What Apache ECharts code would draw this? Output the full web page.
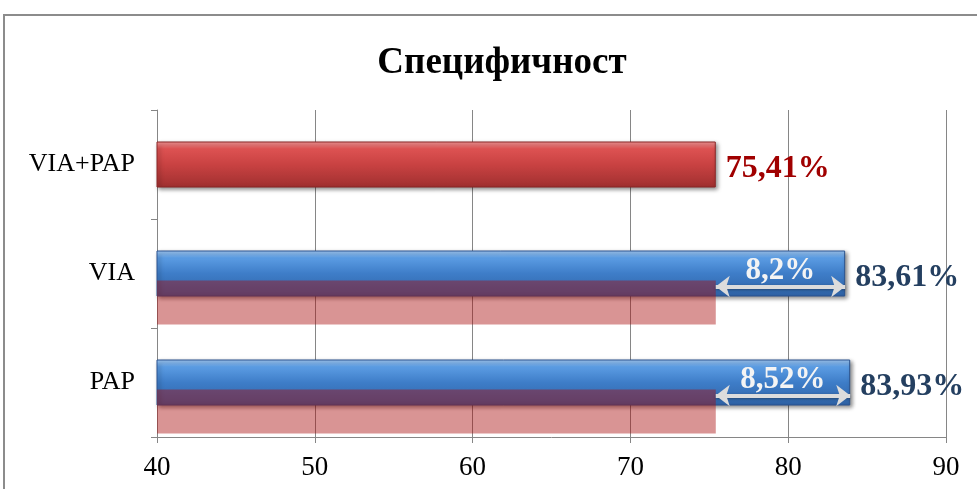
<!DOCTYPE html>
<html>
<head>
<meta charset="utf-8">
<script src="https://cdn.jsdelivr.net/npm/echarts@6/dist/echarts.min.js"></script>
<style>
  html, body { margin: 0; padding: 0; background: #fff; }
  #chart { width: 977px; height: 489px; }
</style>
</head>
<body>
<div id="chart"></div>
<script>
  // data
  var categories = ['PAP', 'VIA', 'VIA+PAP'];
  var specValues = [83.93, 83.61, 75.41];
  var refValues = [75.41, 75.41, '-'];      // VIA+PAP bar shown again under the others
  var diffLabels = ['8,52%', '8,2%'];
  var xTicks = [40, 50, 60, 70, 80, 90];

  var font = '"Liberation Serif", "Times New Roman", serif';

  var blueFill = new echarts.graphic.LinearGradient(0, 0, 0, 1, [
    {offset: 0, color: '#a4cdf8'},
    {offset: 0.16, color: '#5b9ce3'},
    {offset: 0.5, color: '#3e7dc8'},
    {offset: 1, color: '#2f63a6'}
  ]);
  var redFill = new echarts.graphic.LinearGradient(0, 0, 0, 1, [
    {offset: 0, color: '#f89a9a'},
    {offset: 0.16, color: '#dd5252'},
    {offset: 0.5, color: '#c94242'},
    {offset: 1, color: '#a03030'}
  ]);

  var mainData = specValues.map(function (v, i) {
    var isRed = categories[i] === 'VIA+PAP';
    return {
      value: v,
      itemStyle: {
        color: isRed ? redFill : blueFill,
        borderColor: isRed ? '#8a2727' : '#2a5390',
        borderWidth: 1,
        shadowColor: 'rgba(0,0,0,0.45)',
        shadowBlur: 4,
        shadowOffsetX: 2,
        shadowOffsetY: 2
      },
      label: {color: isRed ? '#a00000' : '#243f60'}
    };
  });

  var arrowLines = diffLabels.map(function (t, i) {
    return [
      {coord: [refValues[i], categories[i]], name: t},
      {coord: [specValues[i], categories[i]]}
    ];
  });

  var myChart = echarts.init(document.getElementById('chart'));

  var xBase = {
    type: 'value', min: xTicks[0], max: xTicks[xTicks.length - 1], interval: 10
  };
  var hiddenX = Object.assign({}, xBase, {show: false, splitLine: {show: false}});
  var hiddenY = {type: 'category', data: categories, show: false};

  var option = {
    animation: false,
    title: {
      text: 'Специфичност',
      left: 497,
      textAlign: 'center',
      top: 40,
      textStyle: {fontFamily: font, fontSize: 37, fontWeight: 'bold', color: '#000'}
    },
    graphic: [{
      type: 'rect',
      shape: {x: 4, y: 15, width: 1000, height: 500},
      style: {fill: 'none', stroke: '#8c8c8c', lineWidth: 2},
      silent: true
    }],
    grid: [
      {left: 157, right: 31, top: 110, bottom: 52},
      {left: 157, right: 31, top: 139, bottom: 23},
      {left: 157, right: 31, top: 123, bottom: 39}
    ],
    xAxis: [
      Object.assign({}, xBase, {
        gridIndex: 0,
        axisLine: {show: true, lineStyle: {color: '#868686'}},
        axisTick: {show: true, length: 6, lineStyle: {color: '#868686'}},
        axisLabel: {fontFamily: font, fontSize: 27, color: '#000', margin: 17},
        splitLine: {show: true, lineStyle: {color: '#868686', width: 1}}
      }),
      Object.assign({}, hiddenX, {gridIndex: 1}),
      Object.assign({}, hiddenX, {gridIndex: 2})
    ],
    yAxis: [
      {
        type: 'category', gridIndex: 0, data: categories,
        axisLine: {show: true, lineStyle: {color: '#868686'}},
        axisTick: {show: true, length: 6, lineStyle: {color: '#868686'}},
        axisLabel: {fontFamily: font, fontSize: 26, color: '#000', margin: 22, padding: [4, 0, 0, 0]}
      },
      Object.assign({}, hiddenY, {gridIndex: 1}),
      Object.assign({}, hiddenY, {gridIndex: 2})
    ],
    series: [
      {
        name: 'spec',
        type: 'bar',
        xAxisIndex: 0, yAxisIndex: 0,
        barWidth: 46,
        z: 2,
        data: mainData,
        label: {
          show: true,
          position: 'right',
          distance: 10,
          offset: [0, 4],
          fontFamily: font,
          fontSize: 32,
          fontWeight: 'bold',
          formatter: function (p) { return p.value.toFixed(2).replace('.', ',') + '%'; }
        }
      },
      {
        name: 'ref',
        type: 'bar',
        xAxisIndex: 1, yAxisIndex: 1,
        barWidth: 44,
        z: 3,
        data: refValues,
        itemStyle: {color: 'rgba(168,12,12,0.44)'}
      },
      {
        name: 'diff',
        type: 'scatter',
        xAxisIndex: 2, yAxisIndex: 2,
        symbolSize: 0,
        z: 4,
        data: [],
        markLine: {
          silent: true,
          symbol: ['arrow', 'arrow'],
          symbolSize: [16, 14],
          lineStyle: {
            color: '#dcdcdc', width: 4, type: 'solid',
            shadowColor: 'rgba(0,0,0,0.35)', shadowBlur: 3, shadowOffsetY: 1
          },
          label: {
            show: true,
            position: 'middle',
            formatter: '{b}',
            distance: 0,
            fontFamily: font,
            fontSize: 31,
            fontWeight: 'bold',
            color: '#f4f4f4'
          },
          data: arrowLines
        }
      }
    ]
  };
  option && myChart.setOption(option);
</script>
</body>
</html>
